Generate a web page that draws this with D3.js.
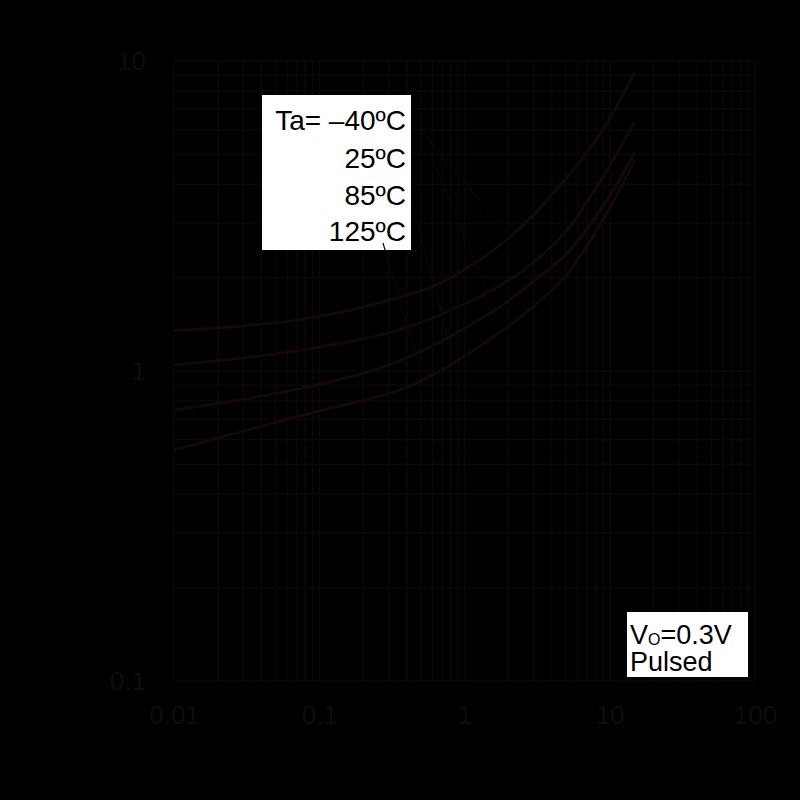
<!DOCTYPE html>
<html><head><meta charset="utf-8">
<script src="https://cdn.jsdelivr.net/npm/d3@7"></script>
<style>html,body{margin:0;padding:0;background:#000;}svg{display:block;}</style>
</head><body>
<script>
// tick labels
const xTicks = [0.01, 0.1, 1, 10, 100];
const xTickLabels = ["0.01", "0.1", "1", "10", "100"];
const yTicks = [0.1, 1, 10];
const yTickLabels = ["0.1", "1", "10"];

// series
const seriesNames = ["Ta= \u201340ºC", "25ºC", "85ºC", "125ºC"];
const xMinus40 = [0.01, 0.0773, 0.36, 0.678, 2.06, 5.59, 9.57, 14.9];
const yMinus40 = [1.35, 1.47, 1.73, 1.92, 2.71, 4.45, 6.31, 9.22];
const x25 = [0.01, 0.0773, 0.36, 1.04, 2.5, 5.08, 9.57, 14.9];
const y25 = [1.045, 1.17, 1.36, 1.66, 2.1, 2.85, 4.45, 6.36];
const x85 = [0.01, 0.0773, 0.36, 1.75, 3.0, 5.08, 9.57, 14.9];
const y85 = [0.748, 0.881, 1.08, 1.61, 1.95, 2.4, 3.56, 5.08];
const x125 = [0.01, 0.0773, 0.36, 0.65, 1.75, 3.0, 5.08, 9.57, 14.9];
const y125 = [0.556, 0.721, 0.869, 0.99, 1.33, 1.62, 2.05, 3.24, 4.80];
const seriesX = [xMinus40, x25, x85, x125];
const seriesY = [yMinus40, y25, y85, y125];

// leader lines end on the curves at these x values
const leaderCurveX = [2.06, 1.43, 0.76, 0.52];
const noteLines = ["0.3V", "Pulsed"];

const W = 800, H = 800;
const FONT = "Liberation Sans, Arial, sans-serif";
const svg = d3.select("body").append("svg").attr("width", W).attr("height", H);
svg.append("rect").attr("width", W).attr("height", H).attr("fill", "#000");

const x = d3.scaleLog().domain([0.01, 100]).range([174, 755]);
const y = d3.scaleLog().domain([0.1, 10]).range([681, 61]);

const gridCol = "#0e0707";
const g = svg.append("g");
const xg = [];
for (let e = -2; e < 2; e++) for (let k = 1; k <= 9; k++) xg.push(k * Math.pow(10, e));
xg.push(100);
const yg = [];
for (let e = -1; e < 1; e++) for (let k = 1; k <= 9; k++) yg.push(k * Math.pow(10, e));
yg.push(10);
g.selectAll("line.vx").data(xg).enter().append("line")
  .attr("x1", d => x(d)).attr("x2", d => x(d)).attr("y1", y(0.1)).attr("y2", y(10))
  .attr("stroke", gridCol).attr("stroke-width", 1.5);
g.selectAll("line.hy").data(yg).enter().append("line")
  .attr("y1", d => y(d)).attr("y2", d => y(d)).attr("x1", x(0.01)).attr("x2", x(100))
  .attr("stroke", gridCol).attr("stroke-width", 1.5);

const labCol = "#110b0b";
const xa = svg.append("g").attr("transform", `translate(0,${y(0.1)})`)
  .call(d3.axisBottom(x).tickValues(xTicks).tickFormat((d, i) => xTickLabels[i]).tickSize(0).tickPadding(25));
xa.select(".domain").remove();
xa.selectAll("text").attr("fill", labCol).attr("font-family", FONT).attr("font-size", 26);
const ya = svg.append("g").attr("transform", `translate(${x(0.01)},0)`)
  .call(d3.axisLeft(y).tickValues(yTicks).tickFormat((d, i) => yTickLabels[i]).tickSize(0).tickPadding(28));
ya.select(".domain").remove();
ya.selectAll("text").attr("fill", labCol).attr("font-family", FONT).attr("font-size", 26);

// curves
const pts = seriesX.map((xs, s) => xs.map((v, i) => [v, seriesY[s][i]]));
const line = d3.line().x(d => x(d[0])).y(d => y(d[1])).curve(d3.curveCatmullRom.alpha(0.5));
svg.selectAll("path.s").data(pts).enter().append("path")
  .attr("d", d => line(d)).attr("fill", "none").attr("stroke", "#140909").attr("stroke-width", 3);

// legend box
const lb = svg.append("g");
lb.append("rect").attr("x", 262).attr("y", 95).attr("width", 149).attr("height", 155).attr("fill", "#fff");
const rowY = [130, 168, 205, 241];
lb.selectAll("text").data(seriesNames).enter().append("text")
  .attr("x", 406).attr("y", (d, i) => rowY[i]).attr("text-anchor", "end")
  .attr("font-family", FONT).attr("font-size", 28).attr("fill", "#000")
  .text(d => d);

// leader lines
const interp = (s, xv) => {
  const xs = seriesX[s], ys = seriesY[s];
  const lx = Math.log10(xv);
  for (let i = 0; i < xs.length - 1; i++) {
    const a = Math.log10(xs[i]), b = Math.log10(xs[i + 1]);
    if (lx >= a && lx <= b) {
      const t = (lx - a) / (b - a);
      return Math.pow(10, Math.log10(ys[i]) + t * (Math.log10(ys[i + 1]) - Math.log10(ys[i])));
    }
  }
  return ys[ys.length - 1];
};
const leaderStart = [[412, 120], [430, 153], [412, 203], [383, 243]];
svg.selectAll("line.ld").data(leaderCurveX).enter().append("line")
  .attr("x1", (d, i) => leaderStart[i][0]).attr("y1", (d, i) => leaderStart[i][1])
  .attr("x2", d => x(d)).attr("y2", (d, i) => y(interp(i, d)))
  .attr("stroke", "#0e0707").attr("stroke-width", 1.2);

// note box (one text element, two lines)
const nb = svg.append("g");
nb.append("rect").attr("x", 627).attr("y", 612).attr("width", 121).attr("height", 65).attr("fill", "#fff");
const t1 = nb.append("text").attr("x", 630).attr("y", 644)
  .attr("font-family", FONT).attr("font-size", 27).attr("fill", "#000");
t1.append("tspan").text("V");
t1.append("tspan").attr("font-size", 16).attr("dy", 1).text("O");
t1.append("tspan").attr("dy", -1).text("=" + noteLines[0]);
t1.append("tspan").attr("x", 630).attr("dy", 27).text(noteLines[1]);
</script>
</body></html>
